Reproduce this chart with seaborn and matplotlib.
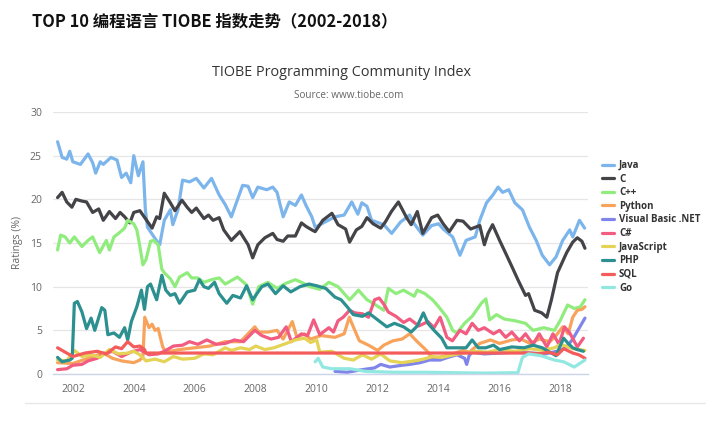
"""
TOP 10 编程语言 TIOBE 指数走势（2002-2018）
输出：out.png
"""

import matplotlib
matplotlib.use('Agg')

import pandas as pd
import matplotlib.pyplot as plt
import seaborn as sns

# ========== 数据 ==========
languages = ['Java', 'C', 'C++', 'Python', 'Visual Basic .NET',
             'C#', 'JavaScript', 'PHP', 'SQL', 'Go']
colors = ['#7cb5ec', '#434348', '#90ed7d', '#f7a35c', '#8085e9',
          '#f15c80', '#e4d354', '#2b908f', '#f45b5b', '#91e8e1']

java_x = [2001.5, 2001.65, 2001.8, 2001.9, 2002.0, 2002.25, 2002.5, 2002.65, 2002.75, 2002.9,
          2003.0, 2003.25, 2003.45, 2003.6, 2003.75, 2003.9, 2004.0, 2004.15, 2004.3, 2004.38,
          2004.45, 2004.7, 2004.85, 2005.0, 2005.2, 2005.28, 2005.45, 2005.6, 2005.83, 2006.05,
          2006.3, 2006.55, 2006.8, 2007.0, 2007.2, 2007.57, 2007.75, 2007.9, 2008.07, 2008.36,
          2008.56, 2008.7, 2008.9, 2009.1, 2009.3, 2009.5, 2009.65, 2009.84, 2009.95, 2010.27,
          2010.6, 2010.9, 2011.15, 2011.35, 2011.48, 2011.65, 2011.8, 2012.2, 2012.46, 2012.75,
          2013.05, 2013.2, 2013.48, 2013.77, 2014.0, 2014.15, 2014.46, 2014.7, 2014.9, 2015.2,
          2015.35, 2015.57, 2015.78, 2015.95, 2016.1, 2016.3, 2016.5, 2016.75, 2016.98, 2017.2,
          2017.4, 2017.64, 2017.85, 2018.07, 2018.3, 2018.4, 2018.62, 2018.79]
java_y = [26.6, 24.8, 24.6, 25.5, 24.3, 24.0, 25.2, 24.2, 23.0, 24.3,
          24.0, 24.8, 24.5, 22.5, 23.0, 21.9, 25.0, 22.7, 24.3, 18.8,
          16.8, 15.5, 14.8, 17.6, 18.8, 17.1, 18.8, 22.2, 22.0, 22.4,
          21.3, 22.4, 20.5, 19.4, 18.0, 21.6, 21.5, 20.2, 21.4, 21.1,
          21.4, 20.8, 18.0, 19.7, 19.3, 20.5, 19.3, 18.0, 16.8, 17.4,
          18.0, 18.2, 19.7, 18.3, 19.6, 19.2, 17.6, 17.1, 16.1, 17.4,
          18.2, 17.2, 15.9, 17.0, 17.2, 16.6, 15.7, 13.6, 15.3, 15.7,
          17.6, 19.6, 20.5, 21.4, 20.8, 21.1, 19.6, 18.8, 16.8, 15.3,
          13.6, 12.5, 13.4, 15.3, 16.5, 15.7, 17.6, 16.7]

c_x = [2001.5, 2001.65, 2001.8, 2001.97, 2002.1, 2002.3, 2002.45, 2002.65, 2002.85, 2003.0,
       2003.2, 2003.4, 2003.55, 2003.7, 2003.87, 2004.0, 2004.2, 2004.38, 2004.6, 2004.75,
       2004.85, 2005.0, 2005.2, 2005.35, 2005.58, 2005.75, 2005.9, 2006.05, 2006.3, 2006.45,
       2006.6, 2006.8, 2006.95, 2007.2, 2007.48, 2007.75, 2007.9, 2008.07, 2008.3, 2008.56,
       2008.7, 2008.9, 2009.05, 2009.3, 2009.5, 2009.65, 2009.84, 2009.95, 2010.2, 2010.5,
       2010.7, 2010.95, 2011.08, 2011.3, 2011.48, 2011.65, 2011.85, 2012.1, 2012.25, 2012.45,
       2012.68, 2012.95, 2013.1, 2013.3, 2013.48, 2013.77, 2013.97, 2014.15, 2014.35, 2014.6,
       2014.8, 2015.05, 2015.2, 2015.35, 2015.5, 2015.62, 2015.77, 2016.0, 2016.23, 2016.43,
       2016.6, 2016.85, 2016.95, 2017.15, 2017.38, 2017.55, 2017.7, 2017.9, 2018.2, 2018.4,
       2018.55, 2018.7, 2018.8]
c_y = [20.2, 20.8, 19.7, 19.1, 20.0, 19.8, 19.7, 18.5, 18.9, 17.6,
       18.6, 17.8, 18.5, 18.0, 17.3, 18.5, 18.7, 17.8, 16.7, 18.0,
       17.8, 20.7, 19.6, 18.7, 19.9, 19.1, 18.5, 19.0, 17.8, 18.2,
       17.6, 17.9, 16.5, 15.3, 16.3, 14.8, 13.3, 14.8, 15.6, 16.1,
       15.4, 15.2, 15.8, 15.8, 17.3, 16.9, 16.5, 16.3, 17.6, 18.4,
       17.1, 16.6, 15.1, 16.5, 16.9, 17.9, 17.2, 16.7, 17.4, 18.6,
       19.7, 17.9, 17.1, 18.6, 16.1, 17.9, 18.2, 17.2, 16.3, 17.6,
       17.5, 16.6, 16.8, 17.0, 14.8, 16.1, 17.1, 15.3, 13.6, 12.1,
       10.8, 9.0, 9.2, 7.3, 7.0, 6.5, 8.5, 11.6, 13.9, 15.1,
       15.6, 15.2, 14.4]

cpp_x = [2001.5, 2001.6, 2001.75, 2001.9, 2002.05, 2002.3, 2002.5, 2002.65, 2002.88, 2003.1,
         2003.2, 2003.35, 2003.5, 2003.7, 2003.8, 2004.0, 2004.1, 2004.18, 2004.3, 2004.4,
         2004.55, 2004.65, 2004.8, 2004.92, 2005.0, 2005.2, 2005.35, 2005.5, 2005.75, 2005.9,
         2006.1, 2006.3, 2006.55, 2006.8, 2007.0, 2007.4, 2007.7, 2007.9, 2008.1, 2008.4,
         2008.7, 2009.0, 2009.3, 2009.5, 2009.77, 2010.1, 2010.4, 2010.7, 2011.08, 2011.37,
         2011.65, 2011.85, 2012.2, 2012.35, 2012.6, 2012.85, 2013.2, 2013.3, 2013.55, 2013.8,
         2014.0, 2014.27, 2014.46, 2014.6, 2014.85, 2015.1, 2015.4, 2015.55, 2015.67, 2015.9,
         2016.15, 2016.5, 2016.85, 2017.1, 2017.45, 2017.8, 2018.0, 2018.23, 2018.45, 2018.65,
         2018.8]
cpp_y = [14.2, 15.9, 15.7, 15.0, 15.7, 14.6, 15.3, 15.7, 13.9, 15.3,
         14.2, 15.7, 16.1, 16.7, 17.6, 17.2, 16.5, 15.0, 12.5, 13.1,
         15.2, 15.3, 14.8, 12.0, 11.6, 10.9, 10.0, 11.1, 11.6, 11.0,
         11.0, 10.5, 10.8, 11.0, 10.3, 11.1, 10.2, 8.0, 10.0, 10.5,
         9.8, 10.4, 10.8, 10.5, 10.0, 9.7, 10.5, 10.0, 8.5, 9.6,
         8.5, 8.1, 7.3, 9.8, 9.2, 9.6, 8.9, 9.6, 9.2, 8.5,
         7.7, 6.5, 5.0, 4.7, 5.8, 6.6, 8.1, 8.6, 6.2, 6.8,
         6.3, 6.1, 5.8, 5.0, 5.3, 5.0, 6.2, 7.9, 7.5, 7.7,
         8.5]

python_x = [2001.5, 2002.0, 2002.5, 2003.0, 2003.3, 2003.6, 2004.0, 2004.2, 2004.3, 2004.36,
            2004.5, 2004.6, 2004.7, 2004.8, 2004.95, 2005.05, 2005.5, 2006.0, 2006.5, 2007.0,
            2007.5, 2007.97, 2008.1, 2008.4, 2008.7, 2008.9, 2009.2, 2009.35, 2009.6, 2009.8,
            2010.15, 2010.6, 2010.9, 2011.07, 2011.25, 2011.4, 2011.7, 2012.0, 2012.2, 2012.5,
            2012.8, 2013.05, 2013.3, 2013.6, 2013.8, 2014.15, 2014.45, 2014.8, 2015.0, 2015.35,
            2015.7, 2016.0, 2016.4, 2016.7, 2017.0, 2017.3, 2017.65, 2017.85, 2018.07, 2018.25,
            2018.4, 2018.55, 2018.7, 2018.8]
python_y = [1.3, 1.2, 1.8, 2.4, 1.8, 1.5, 1.3, 1.6, 2.0, 6.5,
            5.3, 5.7, 5.0, 5.2, 3.1, 2.5, 2.8, 3.0, 3.2, 3.7,
            3.7, 5.4, 4.8, 4.8, 5.0, 4.0, 6.0, 4.2, 4.6, 4.0,
            4.4, 4.2, 4.6, 6.5, 5.0, 3.8, 3.3, 2.7, 3.3, 3.8,
            4.0, 4.6, 3.7, 2.7, 1.8, 2.0, 2.3, 2.7, 2.5, 3.5,
            3.9, 3.5, 3.9, 4.0, 3.5, 4.0, 3.7, 4.4, 5.4, 4.6,
            6.5, 7.3, 7.4, 7.7]

vbnet_x = [2010.6, 2011.0, 2011.5, 2011.9, 2012.1, 2012.4, 2012.8, 2013.05, 2013.4, 2013.7,
           2014.05, 2014.3, 2014.6, 2014.85, 2014.92, 2015.0, 2015.1, 2015.5, 2016.0, 2016.5,
           2017.0, 2017.5, 2018.0, 2018.2, 2018.4, 2018.6, 2018.8]
vbnet_y = [0.3, 0.2, 0.5, 0.7, 1.1, 0.8, 1.0, 1.1, 1.3, 1.6,
           1.6, 1.9, 2.2, 1.8, 1.1, 2.1, 2.5, 2.3, 2.4, 2.5,
           2.4, 2.3, 2.7, 3.1, 4.0, 5.2, 6.4]

csharp_x = [2001.5, 2001.8, 2002.0, 2002.3, 2002.5, 2002.8, 2003.0, 2003.3, 2003.6, 2003.9,
            2004.2, 2004.5, 2004.8, 2005.0, 2005.3, 2005.6, 2005.83, 2006.1, 2006.4, 2006.7,
            2007.0, 2007.3, 2007.6, 2007.97, 2008.2, 2008.5, 2008.75, 2009.0, 2009.17, 2009.5,
            2009.7, 2009.9, 2010.1, 2010.4, 2010.55, 2010.7, 2010.87, 2011.08, 2011.25, 2011.5,
            2011.7, 2011.9, 2012.05, 2012.2, 2012.35, 2012.6, 2012.85, 2013.05, 2013.35, 2013.65,
            2013.85, 2014.05, 2014.27, 2014.45, 2014.7, 2014.9, 2015.1, 2015.3, 2015.5, 2015.8,
            2016.0, 2016.2, 2016.4, 2016.65, 2016.85, 2017.1, 2017.3, 2017.55, 2017.75, 2017.95,
            2018.13, 2018.3, 2018.55, 2018.75]
csharp_y = [0.5, 0.6, 1.0, 1.1, 1.5, 1.8, 2.3, 2.6, 2.0, 2.5,
            2.8, 2.2, 2.3, 2.6, 3.2, 3.3, 3.7, 3.4, 3.9, 3.4,
            3.5, 3.9, 3.7, 5.0, 4.4, 4.0, 4.2, 5.4, 3.7, 4.6,
            4.4, 6.2, 4.5, 5.3, 4.8, 6.1, 6.5, 7.3, 7.0, 6.9,
            6.5, 8.5, 8.7, 8.0, 7.1, 6.6, 5.9, 6.3, 5.5, 6.0,
            5.3, 6.5, 4.2, 3.8, 5.0, 4.6, 5.8, 5.0, 5.3, 4.6,
            5.0, 4.2, 4.8, 3.8, 4.6, 3.4, 4.6, 3.1, 4.6, 3.4,
            5.4, 4.7, 3.1, 4.1]

js_x = [2001.5, 2001.8, 2002.05, 2002.3, 2002.6, 2002.9, 2003.2, 2003.5, 2003.8, 2004.0,
        2004.2, 2004.4, 2004.7, 2005.0, 2005.3, 2005.6, 2006.0, 2006.3, 2006.6, 2007.0,
        2007.2, 2007.5, 2007.8, 2008.0, 2008.3, 2008.6, 2009.0, 2009.3, 2009.6, 2009.8,
        2010.0, 2010.1, 2010.5, 2010.9, 2011.2, 2011.5, 2011.8, 2012.1, 2012.4, 2012.8,
        2013.2, 2013.5, 2013.8, 2014.1, 2014.5, 2014.8, 2015.2, 2015.6, 2016.0, 2016.5,
        2017.0, 2017.4, 2017.8, 2018.0, 2018.4, 2018.8]
js_y = [1.6, 1.5, 2.7, 2.0, 2.2, 1.9, 2.8, 2.3, 2.4, 2.6,
        2.2, 1.5, 1.7, 1.4, 2.0, 1.7, 1.8, 2.3, 2.2, 3.0,
        2.7, 3.0, 2.8, 3.2, 2.8, 3.0, 3.5, 3.9, 4.1, 3.6,
        3.9, 2.5, 2.6, 1.8, 1.6, 2.2, 1.7, 2.3, 1.5, 1.3,
        1.5, 1.7, 2.0, 1.9, 2.2, 2.4, 2.6, 2.5, 2.8, 2.6,
        2.9, 2.7, 3.0, 3.4, 2.9, 2.7]

php_x = [2001.5, 2001.65, 2001.9, 2001.98, 2002.05, 2002.15, 2002.3, 2002.45, 2002.6, 2002.72,
         2002.95, 2003.05, 2003.15, 2003.35, 2003.53, 2003.7, 2003.8, 2003.92, 2004.1, 2004.25,
         2004.35, 2004.45, 2004.55, 2004.75, 2004.92, 2005.05, 2005.2, 2005.35, 2005.5, 2005.75,
         2006.0, 2006.15, 2006.3, 2006.45, 2006.65, 2006.8, 2007.05, 2007.25, 2007.5, 2007.7,
         2007.9, 2008.2, 2008.4, 2008.65, 2008.9, 2009.15, 2009.45, 2009.75, 2010.0, 2010.3,
         2010.6, 2010.8, 2011.0, 2011.2, 2011.5, 2011.7, 2012.0, 2012.3, 2012.55, 2012.85,
         2013.1, 2013.3, 2013.5, 2013.65, 2013.85, 2014.1, 2014.27, 2014.6, 2014.9, 2015.1,
         2015.3, 2015.55, 2015.8, 2016.0, 2016.4, 2016.8, 2017.1, 2017.4, 2017.6, 2017.85,
         2018.1, 2018.25, 2018.4, 2018.55, 2018.75]
php_y = [1.9, 1.4, 1.6, 1.8, 8.1, 8.3, 7.1, 5.2, 6.4, 5.0,
         7.6, 7.3, 4.5, 4.7, 4.2, 5.3, 3.9, 6.0, 7.7, 9.6,
         7.4, 10.0, 10.3, 8.5, 11.3, 9.6, 9.0, 9.2, 8.1, 9.4,
         9.6, 10.8, 10.0, 9.8, 10.5, 9.2, 8.1, 9.0, 8.7, 10.1,
         8.5, 10.0, 10.3, 9.2, 10.1, 9.4, 10.0, 10.3, 10.1, 9.8,
         8.8, 8.5, 7.7, 6.8, 6.6, 7.0, 6.2, 5.4, 5.8, 5.4,
         4.8, 5.5, 7.0, 5.8, 5.0, 4.1, 3.0, 3.0, 3.0, 3.9,
         3.0, 3.0, 3.3, 2.8, 3.1, 3.0, 3.3, 3.0, 2.6, 2.1,
         4.1, 3.5, 3.0, 2.8, 2.6]

sql_x = [2001.5, 2001.8, 2002.0, 2002.4, 2002.8, 2003.1, 2003.4, 2003.6, 2003.8, 2004.0,
         2004.2, 2004.35, 2004.4, 2017.0, 2017.3, 2017.6, 2017.9, 2018.1, 2018.4, 2018.6,
         2018.8]
sql_y = [3.0, 2.4, 2.0, 2.4, 2.6, 2.3, 3.1, 2.9, 3.7, 3.1,
         3.2, 2.8, 2.4, 2.4, 2.3, 2.5, 2.2, 2.9, 2.4, 2.2,
         1.8]

go_x = [2009.95, 2010.05, 2010.2, 2010.5, 2011.1, 2011.6, 2012.5, 2013.5, 2014.5, 2015.5,
        2016.6, 2016.75, 2016.95, 2017.35, 2017.8, 2018.1, 2018.45, 2018.8]
go_y = [1.4, 1.8, 0.8, 0.6, 0.6, 0.3, 0.2, 0.2, 0.15, 0.1,
        0.15, 1.9, 2.3, 2.1, 1.6, 1.4, 0.8, 1.6]

year_ticks = list(range(2002, 2019, 2))
rating_ticks = [0, 5, 10, 15, 20, 25, 30]

# ========== 整理成长表 ==========
series = [(java_x, java_y), (c_x, c_y), (cpp_x, cpp_y), (python_x, python_y),
          (vbnet_x, vbnet_y), (csharp_x, csharp_y), (js_x, js_y), (php_x, php_y),
          (sql_x, sql_y), (go_x, go_y)]
frames = []
for lang, (xs, ys) in zip(languages, series):
    frames.append(pd.DataFrame({'year': xs, 'rating': ys, 'lang': lang}))
df = pd.concat(frames, ignore_index=True)

# ========== 绘图 ==========
sns.set_style('white')
plt.rcParams['font.family'] = ['Open Sans', 'Noto Sans CJK SC', 'DejaVu Sans']

W, H = 724, 432
fig = plt.figure(figsize=(W / 100, H / 100), dpi=100)
ax = fig.add_axes([53 / W, 1 - 374 / H, (588 - 53) / W, (374 - 112) / H])

sns.lineplot(data=df, x='year', y='rating', hue='lang', hue_order=languages,
             palette=dict(zip(languages, colors)), estimator=None, sort=False,
             linewidth=2.3, ax=ax, legend=True)
for line in ax.get_lines():
    line.set_solid_joinstyle('round')
    line.set_solid_capstyle('round')

ax.set_xlim(2001.35, 2018.9)
ax.set_ylim(0, 30)
ax.set_xticks(year_ticks)
ax.set_yticks(rating_ticks)
ax.grid(axis='y', color='#e6e6e6', linewidth=0.9)
ax.grid(axis='x', visible=False)
for s in ['top', 'right', 'left']:
    ax.spines[s].set_visible(False)
ax.spines['bottom'].set_color('#ccd6eb')
ax.spines['bottom'].set_linewidth(1)
ax.tick_params(axis='x', colors='#ccd6eb', length=4, width=1, pad=3,
               labelcolor='#666666', labelsize=7.5)
ax.tick_params(axis='y', length=0, pad=8, labelcolor='#666666', labelsize=7.5)
ax.set_xlabel('')
ax.set_ylabel('Ratings (%)', color='#666666', fontsize=7.5, labelpad=5)

# 图例放在右侧
handles, labels = ax.get_legend_handles_labels()
ax.legend(handles, labels, loc='upper left', bbox_to_anchor=(602 / W, 1 - 160 / H),
          bbox_transform=fig.transFigure, frameon=False,
          prop={'weight': 'bold', 'size': 7}, labelcolor='#333333',
          handlelength=1.2, handletextpad=0.55, labelspacing=0.27,
          borderaxespad=0, borderpad=0)

# 标题
fig.text(32 / W, 1 - 21 / H, 'TOP 10 编程语言 TIOBE 指数走势（2002-2018）',
         family=['Noto Sans CJK SC', 'DejaVu Sans'], fontweight='bold',
         fontsize=11.8, color='#111111', ha='left', va='center')
fig.text(342 / W, 1 - 73 / H, 'TIOBE Programming Community Index',
         fontsize=10.4, color='#333333', ha='center', va='center')
fig.text(349 / W, 1 - 95 / H, 'Source: www.tiobe.com',
         fontsize=7.2, color='#666666', ha='center', va='center')

# 底部分隔线
fig.add_artist(plt.Line2D([25 / W, 705 / W], [1 - 403 / H, 1 - 403 / H],
                          color='#e8e8e8', linewidth=1, transform=fig.transFigure))

fig.savefig('out.png', dpi=100)
plt.close()
